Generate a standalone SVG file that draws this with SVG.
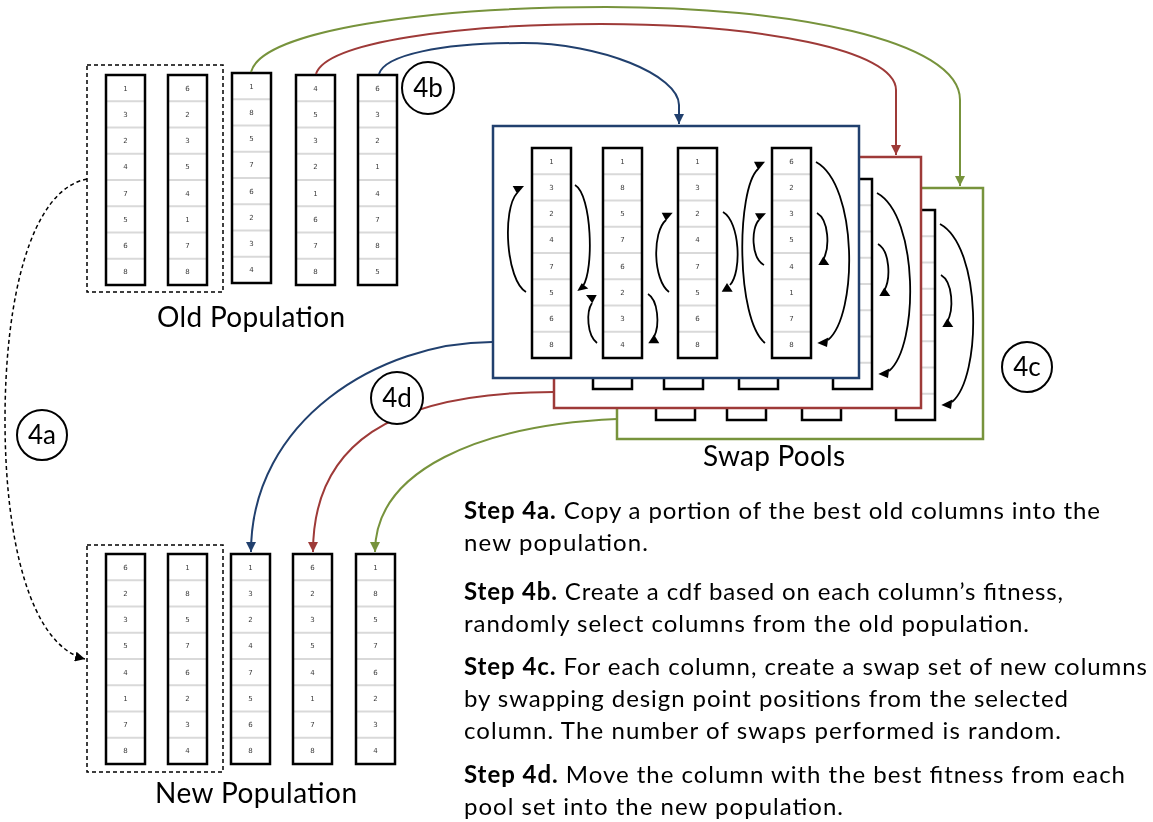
<svg xmlns="http://www.w3.org/2000/svg" xmlns:xlink="http://www.w3.org/1999/xlink" width="1153" height="822" viewBox="0 0 1153 822">
<style>
.sep{stroke:#d9d9d9;stroke-width:2;fill:none}
.colb{fill:none;stroke:#000;stroke-width:2.5}
.num{font-family:"DejaVu Sans",sans-serif;font-size:7px;fill:#3a3a3a;text-anchor:middle}
.swap{fill:none;stroke:#000;stroke-width:1.8}
.head{fill:#000}
.dash{fill:none;stroke:#000;stroke-width:1.5;stroke-dasharray:4 3}
.label{font-family:Lato,"Liberation Sans",sans-serif;font-size:28px;fill:#000;text-anchor:middle}
.step{font-family:Lato,"Liberation Sans",sans-serif;font-size:24px;fill:#000}
.circ{fill:#fff;stroke:#000;stroke-width:2}
.ctext{font-family:Lato,"Liberation Sans",sans-serif;font-size:26px;fill:#000;text-anchor:middle}
.blue{stroke:#21406e}
.red{stroke:#9e3a38}
.green{stroke:#77933c}
.conn{fill:none;stroke-width:2}
.pool{fill:#fff;stroke-width:2.5}
</style>
<defs>
<filter id="gray" filterUnits="userSpaceOnUse" x="0" y="0" width="1153" height="822"><feOffset dx="0" dy="0"/></filter>
<marker id="ahBlue" markerUnits="userSpaceOnUse" viewBox="0 0 10 10" refX="10" refY="5" markerWidth="10" markerHeight="10" orient="auto"><path d="M0,0L10,5L0,10z" fill="#21406e"/></marker>
<marker id="ahRed" markerUnits="userSpaceOnUse" viewBox="0 0 10 10" refX="10" refY="5" markerWidth="10" markerHeight="10" orient="auto"><path d="M0,0L10,5L0,10z" fill="#9e3a38"/></marker>
<marker id="ahGreen" markerUnits="userSpaceOnUse" viewBox="0 0 10 10" refX="10" refY="5" markerWidth="10" markerHeight="10" orient="auto"><path d="M0,0L10,5L0,10z" fill="#77933c"/></marker>
<marker id="ahBlack" markerUnits="userSpaceOnUse" viewBox="0 0 10 10" refX="10" refY="5" markerWidth="10" markerHeight="10" orient="auto"><path d="M0,0L10,5L0,10z" fill="#000"/></marker>
<g id="frame">
<rect width="39" height="210" fill="#fff"/>
<path class="sep" d="M0,26.25H40M0,52.5H40M0,78.75H40M0,105H40M0,131.25H40M0,157.5H40M0,183.75H40"/>
<rect class="colb" width="39" height="210"/>
</g>
<g id="poolcontent">
<g transform="translate(532,148)"><use href="#frame"/><text class="num"><tspan x="19.5" y="15.6">1</tspan><tspan x="19.5" y="41.9">3</tspan><tspan x="19.5" y="68.1">2</tspan><tspan x="19.5" y="94.4">4</tspan><tspan x="19.5" y="120.6">7</tspan><tspan x="19.5" y="146.9">5</tspan><tspan x="19.5" y="173.1">6</tspan><tspan x="19.5" y="199.4">8</tspan></text></g>
<g transform="translate(603,148)"><use href="#frame"/><text class="num"><tspan x="19.5" y="15.6">1</tspan><tspan x="19.5" y="41.9">8</tspan><tspan x="19.5" y="68.1">5</tspan><tspan x="19.5" y="94.4">7</tspan><tspan x="19.5" y="120.6">6</tspan><tspan x="19.5" y="146.9">2</tspan><tspan x="19.5" y="173.1">3</tspan><tspan x="19.5" y="199.4">4</tspan></text></g>
<g transform="translate(678,148)"><use href="#frame"/><text class="num"><tspan x="19.5" y="15.6">1</tspan><tspan x="19.5" y="41.9">3</tspan><tspan x="19.5" y="68.1">2</tspan><tspan x="19.5" y="94.4">4</tspan><tspan x="19.5" y="120.6">7</tspan><tspan x="19.5" y="146.9">5</tspan><tspan x="19.5" y="173.1">6</tspan><tspan x="19.5" y="199.4">8</tspan></text></g>
<g transform="translate(772,148)"><use href="#frame"/><text class="num"><tspan x="19.5" y="15.6">6</tspan><tspan x="19.5" y="41.9">2</tspan><tspan x="19.5" y="68.1">3</tspan><tspan x="19.5" y="94.4">5</tspan><tspan x="19.5" y="120.6">4</tspan><tspan x="19.5" y="146.9">1</tspan><tspan x="19.5" y="173.1">7</tspan><tspan x="19.5" y="199.4">8</tspan></text></g>
<path class="swap" d="M526,292C506,280 502,210 517,193"/>
<polygon class="head" points="512.7,186 524,186 517.3,194"/>
<path class="swap" d="M575,185C592,195 594,270 583,286"/>
<polygon class="head" points="577.3,291 581.7,283.3 588.3,288.6"/>
<path class="swap" d="M597,343C587,335 586,312 592,303"/>
<polygon class="head" points="586,295 596.7,295 592.3,303.3"/>
<path class="swap" d="M648,294C658,300 660,325 654,337"/>
<polygon class="head" points="654,334.5 648.3,343.3 659.3,343.3"/>
<path class="swap" d="M669,292C653,280 652,232 666,220"/>
<polygon class="head" points="661.7,212.7 672.7,212.7 666,220.7"/>
<path class="swap" d="M723,212C740,222 742,272 730,285"/>
<polygon class="head" points="727,283 721.7,291.7 732.7,291.7"/>
<path class="swap" d="M765,343C736,320 736,190 758,169"/>
<polygon class="head" points="754,161.7 765,161.7 758.3,170"/>
<path class="swap" d="M764,265C751,258 751,228 759,220"/>
<polygon class="head" points="755,213.3 766,213.3 759.3,220.7"/>
<path class="swap" d="M816,162C858,185 858,315 828,340"/>
<polygon class="head" points="817.3,343 828.3,337.5 827,347"/>
<path class="swap" d="M817,213C829,220 830,248 823,260"/>
<polygon class="head" points="823.3,256.5 818.3,265 829.3,265"/>
</g>
</defs>
<g filter="url(#gray)">
<rect x="0" y="0" width="1153" height="822" fill="#fff"/>
<g id="old-population">
<rect class="dash" x="87" y="65" width="136" height="227"/>
<g id="old-col-1" transform="translate(106,75)"><use href="#frame"/><text class="num"><tspan x="19.5" y="15.6">1</tspan><tspan x="19.5" y="41.9">3</tspan><tspan x="19.5" y="68.1">2</tspan><tspan x="19.5" y="94.4">4</tspan><tspan x="19.5" y="120.6">7</tspan><tspan x="19.5" y="146.9">5</tspan><tspan x="19.5" y="173.1">6</tspan><tspan x="19.5" y="199.4">8</tspan></text></g>
<g id="old-col-2" transform="translate(168,75)"><use href="#frame"/><text class="num"><tspan x="19.5" y="15.6">6</tspan><tspan x="19.5" y="41.9">2</tspan><tspan x="19.5" y="68.1">3</tspan><tspan x="19.5" y="94.4">5</tspan><tspan x="19.5" y="120.6">4</tspan><tspan x="19.5" y="146.9">1</tspan><tspan x="19.5" y="173.1">7</tspan><tspan x="19.5" y="199.4">8</tspan></text></g>
<g id="old-col-3" transform="translate(232,73)"><use href="#frame"/><text class="num"><tspan x="19.5" y="15.6">1</tspan><tspan x="19.5" y="41.9">8</tspan><tspan x="19.5" y="68.1">5</tspan><tspan x="19.5" y="94.4">7</tspan><tspan x="19.5" y="120.6">6</tspan><tspan x="19.5" y="146.9">2</tspan><tspan x="19.5" y="173.1">3</tspan><tspan x="19.5" y="199.4">4</tspan></text></g>
<g id="old-col-4" transform="translate(296,75)"><use href="#frame"/><text class="num"><tspan x="19.5" y="15.6">4</tspan><tspan x="19.5" y="41.9">5</tspan><tspan x="19.5" y="68.1">3</tspan><tspan x="19.5" y="94.4">2</tspan><tspan x="19.5" y="120.6">1</tspan><tspan x="19.5" y="146.9">6</tspan><tspan x="19.5" y="173.1">7</tspan><tspan x="19.5" y="199.4">8</tspan></text></g>
<g id="old-col-5" transform="translate(358,75)"><use href="#frame"/><text class="num"><tspan x="19.5" y="15.6">6</tspan><tspan x="19.5" y="41.9">3</tspan><tspan x="19.5" y="68.1">2</tspan><tspan x="19.5" y="94.4">1</tspan><tspan x="19.5" y="120.6">4</tspan><tspan x="19.5" y="146.9">7</tspan><tspan x="19.5" y="173.1">8</tspan><tspan x="19.5" y="199.4">5</tspan></text></g>
<text class="label" x="251" y="327" textLength="188">Old Population</text>
</g>

<g id="new-population">
<rect class="dash" x="87" y="545" width="136" height="227"/>
<g id="new-col-1" transform="translate(106,554)"><use href="#frame"/><text class="num"><tspan x="19.5" y="15.6">6</tspan><tspan x="19.5" y="41.9">2</tspan><tspan x="19.5" y="68.1">3</tspan><tspan x="19.5" y="94.4">5</tspan><tspan x="19.5" y="120.6">4</tspan><tspan x="19.5" y="146.9">1</tspan><tspan x="19.5" y="173.1">7</tspan><tspan x="19.5" y="199.4">8</tspan></text></g>
<g id="new-col-2" transform="translate(168,554)"><use href="#frame"/><text class="num"><tspan x="19.5" y="15.6">1</tspan><tspan x="19.5" y="41.9">8</tspan><tspan x="19.5" y="68.1">5</tspan><tspan x="19.5" y="94.4">7</tspan><tspan x="19.5" y="120.6">6</tspan><tspan x="19.5" y="146.9">2</tspan><tspan x="19.5" y="173.1">3</tspan><tspan x="19.5" y="199.4">4</tspan></text></g>
<g id="new-col-3" transform="translate(231,554)"><use href="#frame"/><text class="num"><tspan x="19.5" y="15.6">1</tspan><tspan x="19.5" y="41.9">3</tspan><tspan x="19.5" y="68.1">2</tspan><tspan x="19.5" y="94.4">4</tspan><tspan x="19.5" y="120.6">7</tspan><tspan x="19.5" y="146.9">5</tspan><tspan x="19.5" y="173.1">6</tspan><tspan x="19.5" y="199.4">8</tspan></text></g>
<g id="new-col-4" transform="translate(293,554)"><use href="#frame"/><text class="num"><tspan x="19.5" y="15.6">6</tspan><tspan x="19.5" y="41.9">2</tspan><tspan x="19.5" y="68.1">3</tspan><tspan x="19.5" y="94.4">5</tspan><tspan x="19.5" y="120.6">4</tspan><tspan x="19.5" y="146.9">1</tspan><tspan x="19.5" y="173.1">7</tspan><tspan x="19.5" y="199.4">8</tspan></text></g>
<g id="new-col-5" transform="translate(356,554)"><use href="#frame"/><text class="num"><tspan x="19.5" y="15.6">1</tspan><tspan x="19.5" y="41.9">8</tspan><tspan x="19.5" y="68.1">5</tspan><tspan x="19.5" y="94.4">7</tspan><tspan x="19.5" y="120.6">6</tspan><tspan x="19.5" y="146.9">2</tspan><tspan x="19.5" y="173.1">3</tspan><tspan x="19.5" y="199.4">4</tspan></text></g>
<text class="label" x="256" y="803" textLength="202">New Population</text>
</g>

<g id="swap-pools">
<g id="pool-green"><rect class="pool green" x="617" y="188" width="366" height="251"/><use href="#poolcontent" transform="translate(124,62)"/></g>
<g id="pool-red"><rect class="pool red" x="554" y="157" width="367" height="251"/><use href="#poolcontent" transform="translate(61,31)"/></g>
<g id="pool-blue"><rect class="pool blue" x="493" y="126" width="366" height="252"/><use href="#poolcontent"/></g>
<text class="label" x="774" y="466" textLength="142">Swap Pools</text>
</g>

<g id="connectors">
<path class="conn green" d="M251,72C262,30 430,7 606,7C790,7 960,40 960,100L960,186" marker-end="url(#ahGreen)"/>
<path class="conn red" d="M316,74C326,42 460,24 601,24C760,24 896,50 896,90L896,155" marker-end="url(#ahRed)"/>
<path class="conn blue" d="M379,74C385,55 440,43 523,43C600,43 679,75 679,105L679,124" marker-end="url(#ahBlue)"/>
<path class="conn blue" d="M492,342C380,342 251,420 251,552" marker-end="url(#ahBlue)"/>
<path class="conn red" d="M554,392C390,392 313,445 313,552" marker-end="url(#ahRed)"/>
<path class="conn green" d="M617,419C480,425 375,470 375,552" marker-end="url(#ahGreen)"/>
<path class="dash" d="M87,179C30,190 5,300 5,420C5,540 30,645 85,659" marker-end="url(#ahBlack)"/>
</g>

<g id="step-labels">
<g id="label-4a"><circle class="circ" cx="42" cy="435" r="25"/><text class="ctext" x="42" y="444">4a</text></g>
<g id="label-4b"><circle class="circ" cx="428" cy="88" r="26"/><text class="ctext" x="428" y="97">4b</text></g>
<g id="label-4c"><circle class="circ" cx="1027" cy="367" r="25"/><text class="ctext" x="1027" y="376">4c</text></g>
<g id="label-4d"><circle class="circ" cx="397" cy="398" r="26"/><text class="ctext" x="397" y="407">4d</text></g>
</g>

<g id="steps-text" class="step">
<text x="464" y="519" textLength="636"><tspan font-weight="bold">Step 4a.</tspan> Copy a portion of the best old columns into the</text>
<text x="464" y="551" textLength="184">new population.</text>
<text x="464" y="600" textLength="599"><tspan font-weight="bold">Step 4b.</tspan> Create a cdf based on each column’s fitness,</text>
<text x="464" y="632" textLength="565">randomly select columns from the old population.</text>
<text x="464" y="675" textLength="683"><tspan font-weight="bold">Step 4c.</tspan> For each column, create a swap set of new columns</text>
<text x="464" y="707" textLength="604">by swapping design point positions from the selected</text>
<text x="464" y="739" textLength="597">column. The number of swaps performed is random.</text>
<text x="464" y="783" textLength="661"><tspan font-weight="bold">Step 4d.</tspan> Move the column with the best fitness from each</text>
<text x="464" y="815" textLength="379">pool set into the new population.</text>
</g>
</g>
</svg>
